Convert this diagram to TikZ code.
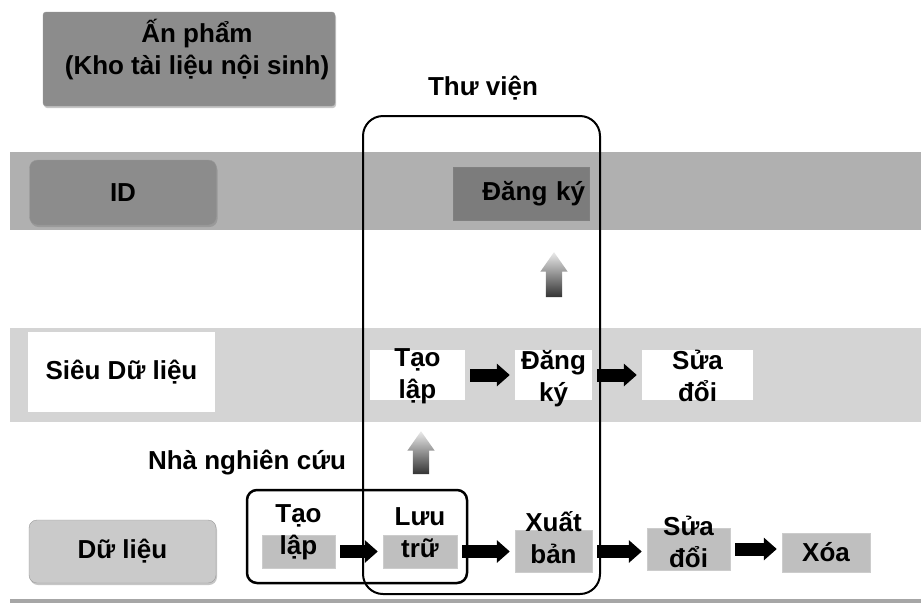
\documentclass[tikz,border=0pt]{standalone}
\usepackage{fontspec}
\setmainfont{Liberation Sans}
\usetikzlibrary{arrows.meta,positioning,shapes,shadows}

\definecolor{bandid}{HTML}{B0B0B0}
\definecolor{bandmeta}{HTML}{D4D4D4}
\definecolor{btndark}{HTML}{8C8C8C}
\definecolor{regdark}{HTML}{7C7C7C}
\definecolor{btnlight}{HTML}{CACACA}
\definecolor{stepgray}{HTML}{BFBFBF}

\begin{document}
\begin{tikzpicture}[x=1pt,y=-1pt,
  txt/.style={font=\bfseries\fontsize{26}{32}\selectfont,align=center,inner sep=0pt},
  btn/.style={draw=black!40,fill=#1,rounded corners=8pt,inner sep=0pt,
    drop shadow={shadow xshift=1pt,shadow yshift=-2pt,opacity=.45}},
  wbox/.style={fill=white,inner sep=0pt},
  gbox/.style={fill=stepgray,draw=black!20,inner sep=0pt},
  blk/.style={-{Triangle[width=22pt,length=13pt]},line width=13pt,shorten <=5pt,shorten >=5pt},
  uparrow/.style={single arrow,shape border rotate=90,single arrow head extend=5.5pt,
    single arrow tip angle=70,inner sep=8pt,
    top color=black!8,bottom color=black!80,draw=none}]
\useasboundingbox (0,0) rectangle (921,603);

% bands
\fill[bandid] (10,152) rectangle (921,230);
\fill[bandmeta] (10,328) rectangle (921,422);
\fill[black!35] (10,599) rectangle (921,603);

% publication
\node[btn=btndark,rounded corners=3pt,minimum width=292pt,minimum height=94pt] (pub) at (189,59) {};
\node[txt] (pubt) at (197,50) {Ấn phẩm\\(Kho tài liệu nội sinh)};
\node[txt] (libt) at (483,88) {Thư viện};

% ID row
\node[btn=btndark,txt,minimum width=187pt,minimum height=65pt] (id) at (123,192.5) {ID};
\node[fill=regdark,draw=black!50,txt,align=right,text width=128pt,minimum width=136pt,minimum height=53pt] (iddk) at (521,193.5) {Đăng ký};

% metadata row
\node[wbox,txt,minimum width=187pt,minimum height=80pt] (meta) at (121.5,372) {Siêu Dữ liệu};
\node[wbox,minimum width=95pt,minimum height=50pt] (mtl) at (417.5,375) {};
\node[wbox,minimum width=77pt,minimum height=50pt] (mdk) at (553.5,375) {};
\node[wbox,minimum width=111pt,minimum height=50pt] (msd) at (697.5,375) {};
\node[txt] (mtlt) at ([yshift=-1pt]mtl.center) {Tạo\\lập};
\node[txt] (mdkt) at ([yshift=-4pt]mdk.center) {Đăng\\ký};
\node[txt] (msdt) at ([yshift=-1pt]msd.center) {Sửa\\đổi};
\draw[blk] (mtl) -- (mdk);
\draw[blk] (mdk) -- (msd);

% data row
\node[txt] (res) at (247,463) {Nhà nghiên cứu};
\node[btn=btnlight,txt,minimum width=187pt,minimum height=63pt] (data) at (122.5,551.5) {Dữ liệu};
\node[gbox,minimum width=73pt,minimum height=33pt] (dtl) at (298.5,551.5) {};
\node[gbox,minimum width=74pt,minimum height=33pt] (dlt) at (420,551.5) {};
\node[gbox,minimum width=77pt,minimum height=42pt] (dxb) at (553.5,551.5) {};
\node[gbox,minimum width=83pt,minimum height=42pt] (dsd) at (688.5,549) {};
\node[gbox,minimum width=88pt,minimum height=39pt] (dxo) at (826,552.5) {};
\node[txt] (dtlt) at ([yshift=19pt]dtl.center) {Tạo\\lập};
\node[txt] (dltt) at ([yshift=19pt]dlt.center) {Lưu\\trữ};
\node[txt] (dxbt) at ([yshift=14pt]dxb.center) {Xuất\\bản};
\node[txt] (dsdt) at ([yshift=7pt]dsd.center) {Sửa\\đổi};
\node[txt] (dxot) at (dxo) {Xóa};
\draw[blk] (dtl) -- (dlt);
\draw[blk] (dlt) -- (dxb);
\draw[blk] (dxb.east) -- (dxb.east -| dsd.west);
\draw[blk] (dsd.east) -- (dsd.east -| dxo.west);

% up arrows
\node[uparrow,minimum height=45pt] (up1) at (554,280.5) {};
\node[uparrow,minimum height=43pt] (up2) at (421,458.5) {};

% frames
\node[draw,line width=2pt,rounded corners=20pt,minimum width=237pt,minimum height=478pt] (lib) at (481.5,355) {};
\node[draw,line width=2.5pt,rounded corners=10pt,minimum width=220pt,minimum height=93pt] (resbox) at (357,536.5) {};
\end{tikzpicture}
\end{document}
